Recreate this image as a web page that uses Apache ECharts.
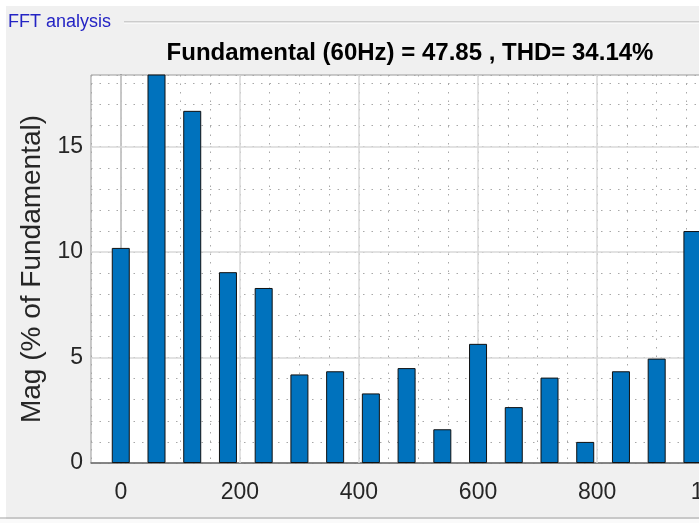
<!DOCTYPE html>
<html>
<head>
<meta charset="utf-8">
<script src="https://cdn.jsdelivr.net/npm/echarts@6/dist/echarts.min.js"></script>
<style>
  html, body { margin: 0; padding: 0; background: #fff; overflow: hidden; }
  /* the original screenshot cuts the plot off on the right, so the chart runs past the window */
  #chart { width: 760px; height: 523px; }
</style>
</head>
<body>
<div id="chart"></div>
<script>
// harmonic frequencies (Hz) and magnitudes (% of fundamental)
const freqs = [0, 60, 120, 180, 240, 300, 360, 420, 480, 540, 600, 660, 720, 780, 840, 900, 960];
const mags = [10.2, 100, 16.7, 9.05, 8.3, 4.2, 4.35, 3.3, 4.5, 1.6, 5.65, 2.65, 4.05, 1.0, 4.35, 4.95, 11.0];
const xTicks = [0, 200, 400, 600, 800, 1000];
const yTicks = [0, 5, 10, 15];

const narrow = '"Liberation Sans Narrow", "Arial Narrow", "Liberation Sans", Arial, sans-serif';
const tickColor = '#262626';
const dotted = { color: '#a8a8a8', width: 1, type: [1.5, 7] };

const chart = echarts.init(document.getElementById('chart'));

const option = {
  backgroundColor: '#f0f0f0',
  animation: false,
  title: {
    text: 'Fundamental (60Hz) = 47.85 , THD= 34.14%',
    left: 405,
    top: 36,
    textAlign: 'center',
    textStyle: { fontFamily: narrow, fontWeight: 'bold', fontSize: 24, color: '#000' }
  },
  graphic: [
    { type: 'rect', shape: { x: 0, y: 0, width: 760, height: 6 }, style: { fill: '#fff' }, silent: true },
    { type: 'rect', shape: { x: 0, y: 0, width: 6, height: 523 }, style: { fill: '#fff' }, silent: true },
    { type: 'rect', shape: { x: 0, y: 519, width: 760, height: 4 }, style: { fill: '#fafafa' }, silent: true },
    { type: 'line', shape: { x1: 0, y1: 518, x2: 760, y2: 518 }, style: { stroke: '#a0a0a0', lineWidth: 1 }, silent: true },
    { type: 'line', shape: { x1: 124, y1: 22, x2: 760, y2: 22 }, style: { stroke: '#a8a8a8', lineWidth: 1 }, silent: true },
    { type: 'line', shape: { x1: 124, y1: 23, x2: 760, y2: 23 }, style: { stroke: '#ffffff', lineWidth: 1 }, silent: true },
    { type: 'text', left: 8, top: 13, style: { text: 'FFT analysis', fill: '#2424c4', font: '18px ' + narrow }, silent: true }
  ],
  grid: {
    left: 91,
    top: 75,
    right: 14,
    bottom: 60,
    show: true,
    backgroundColor: '#ffffff',
    borderColor: '#9a9a9a',
    borderWidth: 1
  },
  xAxis: {
    type: 'value',
    min: -50,
    max: 1050,
    interval: 50,
    axisLine: { show: true, lineStyle: { color: '#6e6e6e', width: 1.5 } },
    axisTick: { show: false },
    axisLabel: {
      color: tickColor,
      fontFamily: narrow,
      fontSize: 23,
      margin: 18,
      formatter: v => (xTicks.includes(v) ? String(v) : '')
    },
    splitLine: { show: true, lineStyle: dotted }
  },
  yAxis: {
    type: 'value',
    min: 0,
    max: 18.4,
    interval: 1,
    name: 'Mag (% of Fundamental)',
    nameLocation: 'middle',
    nameGap: 39,
    nameRotate: 90,
    nameTextStyle: { color: tickColor, fontSize: 28, fontFamily: '"Liberation Sans", Arial, sans-serif' },
    axisLine: { show: true, lineStyle: { color: '#6e6e6e', width: 1.5 } },
    axisTick: { show: false },
    axisLabel: {
      color: tickColor,
      fontFamily: narrow,
      fontSize: 23,
      margin: 8,
      showMaxLabel: false,
      formatter: v => (yTicks.includes(v) ? String(v) : '')
    },
    splitLine: { show: true, lineStyle: dotted }
  },
  series: [
    {
      // major grid lines, kept beneath the bars
      type: 'line',
      data: [],
      z: 1,
      silent: true,
      markLine: {
        z: 1,
        silent: true,
        symbol: 'none',
        label: { show: false },
        lineStyle: { color: '#d8d8d8', width: 1.5, type: 'solid' },
        data: xTicks.map(v => ({ xAxis: v })).concat(yTicks.slice(1).map(v => ({ yAxis: v })))
      }
    },
    {
      type: 'bar',
      z: 3,
      barWidth: 18,
      clip: true,
      itemStyle: { color: '#0072bd', borderColor: '#111', borderWidth: 1 },
      data: freqs.map((f, i) => [f, mags[i]])
    }
  ]
};

chart.setOption(option);
</script>
</body>
</html>
